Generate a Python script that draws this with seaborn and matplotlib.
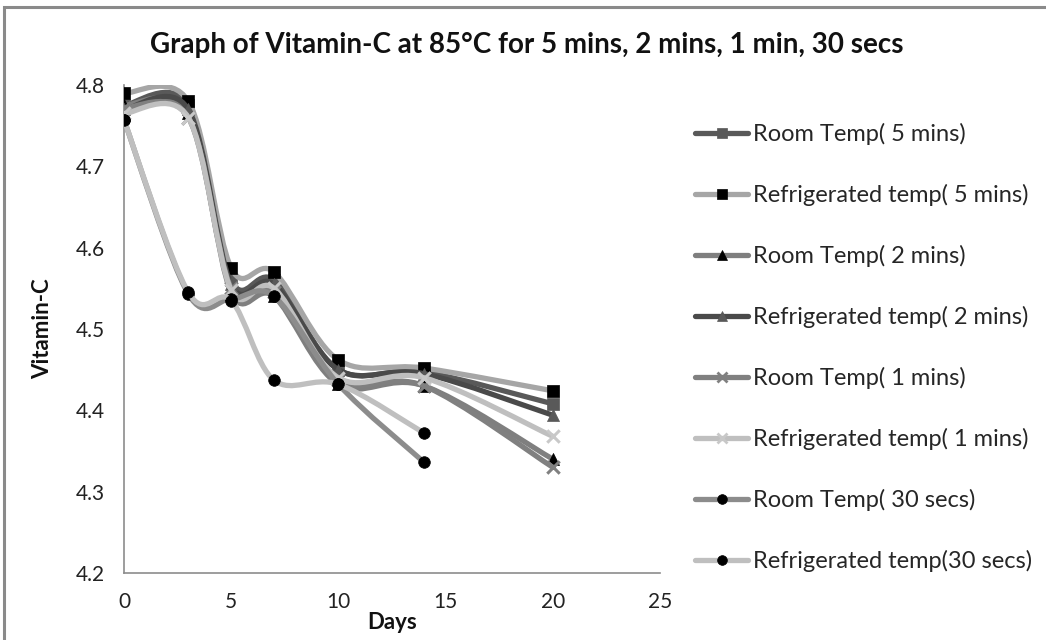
import numpy as np
import pandas as pd
import matplotlib
matplotlib.use("Agg")
import matplotlib.pyplot as plt
import seaborn as sns
from matplotlib.path import Path
from matplotlib.patches import PathPatch, Rectangle
from matplotlib.lines import Line2D

# ---------------- data ----------------
days = [0, 3, 5, 7, 10, 14, 20]
days_30s = [0, 3, 5, 7, 10, 14]

room_5min = [4.775, 4.775, 4.560, 4.560, 4.450, 4.447, 4.408]
refrig_5min = [4.790, 4.780, 4.575, 4.570, 4.462, 4.452, 4.424]
room_2min = [4.775, 4.765, 4.545, 4.540, 4.432, 4.430, 4.340]
refrig_2min = [4.770, 4.770, 4.555, 4.555, 4.450, 4.445, 4.394]
room_1min = [4.772, 4.760, 4.550, 4.545, 4.437, 4.430, 4.330]
refrig_1min = [4.765, 4.760, 4.548, 4.550, 4.440, 4.440, 4.368]
room_30s = [4.757, 4.543, 4.537, 4.540, 4.432, 4.336]
refrig_30s = [4.757, 4.545, 4.535, 4.437, 4.432, 4.372]

labels = ["Room Temp( 5 mins)", "Refrigerated temp( 5 mins)",
          "Room Temp( 2 mins)", "Refrigerated temp( 2 mins)",
          "Room Temp( 1 mins)", "Refrigerated temp( 1 mins)",
          "Room Temp( 30 secs)", "Refrigerated temp(30 secs)"]

x_ticks = [0, 5, 10, 15, 20, 25]
y_ticks = [4.2, 4.3, 4.4, 4.5, 4.6, 4.7, 4.8]

# ---------------- styles ----------------
series = [
    (days, room_5min, "#595959", "s", "#595959"),
    (days, refrig_5min, "#a6a6a6", "s", "#000000"),
    (days, room_2min, "#7f7f7f", "^", "#000000"),
    (days, refrig_2min, "#4a4a4a", "^", "#595959"),
    (days, room_1min, "#808080", "x", "#808080"),
    (days, refrig_1min, "#bfbfbf", "x", "#c8c8c8"),
    (days_30s, room_30s, "#8c8c8c", "o", "#000000"),
    (days_30s, refrig_30s, "#bfbfbf", "o", "#000000"),
]

sns.set_theme(style="white")
plt.rcParams["font.family"] = ["Lato", "DejaVu Sans"]

fig = plt.figure(figsize=(10.46, 6.40), dpi=100)
ax = fig.add_axes([124 / 1046, 1 - 573 / 640, (660 - 124) / 1046, (573 - 85) / 640])


def smooth_path(xs, ys):
    P = np.column_stack([xs, ys]).astype(float)
    n = len(P)
    verts = [P[0]]
    codes = [Path.MOVETO]
    for i in range(n - 1):
        p0 = P[i - 1] if i > 0 else P[i]
        p1 = P[i]
        p2 = P[i + 1]
        p3 = P[i + 2] if i + 2 < n else P[i + 1]
        c1 = p1 + (p2 - p0) / 6.0
        c2 = p2 - (p3 - p1) / 6.0
        verts += [c1, c2, p2]
        codes += [Path.CURVE4] * 3
    return Path(verts, codes)


handles = []
for k, (xs, ys, lc, mk, mc) in enumerate(series):
    z = 3 + 2 * k
    ax.add_patch(PathPatch(smooth_path(xs, ys), facecolor="none", edgecolor=lc,
                           lw=3.8, capstyle="round", joinstyle="round", zorder=z))
    size = {"s": 75, "^": 75, "x": 80, "o": 70}[mk]
    if mk == "x":
        sns.scatterplot(x=xs, y=ys, marker="x", color=mc, s=size, linewidth=2.2,
                        ax=ax, zorder=z + 1, legend=False)
    else:
        sns.scatterplot(x=xs, y=ys, marker=mk, color=mc, edgecolor=mc, s=size,
                        linewidth=0.5, ax=ax, zorder=z + 1, legend=False)
    handles.append(Line2D([], [], color=lc, lw=3.8, marker=mk, markersize=7,
                          markerfacecolor=mc, markeredgecolor=mc,
                          markeredgewidth=2 if mk == "x" else 0.5))

ax.set_xlim(0, 25)
ax.set_ylim(4.2, 4.8)
ax.set_xticks(x_ticks)
ax.set_yticks(y_ticks)
ax.set_xticklabels([str(t) for t in x_ticks])
ax.set_yticklabels([f"{t:.1f}" for t in y_ticks])
ax.tick_params(axis="both", labelsize=15, colors="#222222", length=0)
ax.tick_params(axis="x", pad=14)
ax.tick_params(axis="y", pad=14)
for side in ["top", "right"]:
    ax.spines[side].set_visible(False)
for side in ["left", "bottom"]:
    ax.spines[side].set_color("#8c8c8c")
    ax.spines[side].set_linewidth(1.2)
ax.set_facecolor("white")

ax.set_xlabel("Days", fontsize=16, fontweight="bold", color="#111111", labelpad=0)
ax.set_ylabel("Vitamin-C", fontsize=16, fontweight="bold", color="#111111", labelpad=16)

fig.text(527 / 1046, 1 - 45 / 640, "Graph of Vitamin-C at 85°C for 5 mins, 2 mins, 1 min, 30 secs",
         ha="center", va="center", fontsize=20, fontweight="bold", color="#111111")

fig.legend(handles=handles, labels=labels, loc="upper left",
           bbox_to_anchor=(695 / 1046, 1 - 123 / 640), frameon=False,
           fontsize=17, handlelength=2.25, handletextpad=0.2, labelspacing=1.65,
           borderaxespad=0, borderpad=0)

fig.patches.append(Rectangle((4 / 1046, -0.05), 1.2, 1 - 7 / 640 + 0.05,
                             transform=fig.transFigure, fill=False,
                             edgecolor="#8a8a8a", lw=2.2, zorder=0))

fig.savefig("out.png", dpi=100, facecolor="white")
